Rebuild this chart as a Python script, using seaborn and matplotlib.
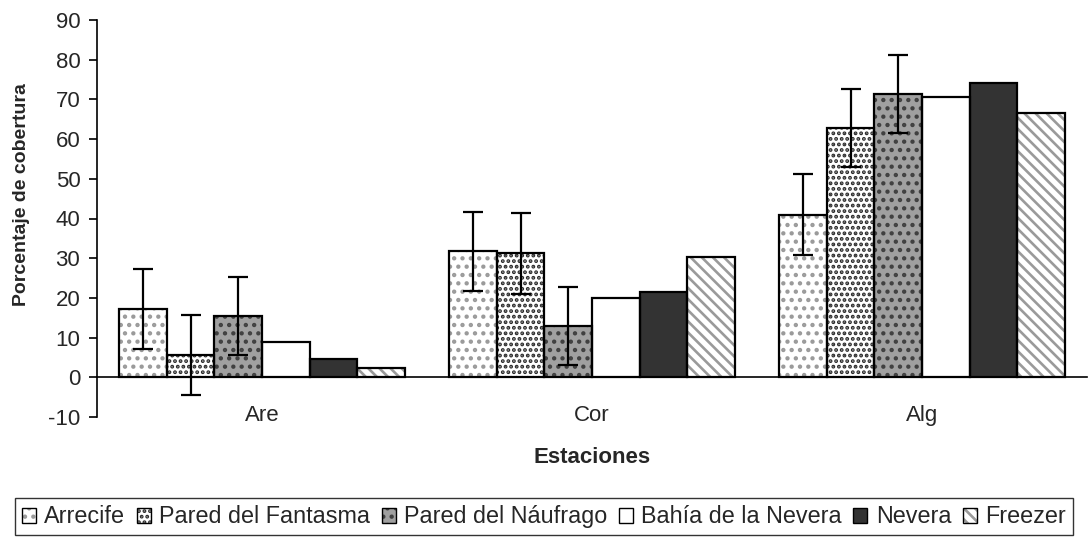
import pandas as pd
import matplotlib.pyplot as plt
import seaborn as sns
from matplotlib.patches import Patch, Rectangle

# datos
estaciones = ['Are', 'Cor', 'Alg']
sitios = ['Arrecife', 'Pared del Fantasma', 'Pared del Náufrago',
          'Bahía de la Nevera', 'Nevera', 'Freezer']

arrecife = [17.3, 31.7, 41.0]
pared_fantasma = [5.6, 31.2, 62.8]
pared_naufrago = [15.4, 13.0, 71.4]
bahia_nevera = [8.8, 20.0, 70.7]
nevera = [4.6, 21.4, 74.1]
freezer = [2.3, 30.2, 66.6]

err_arrecife = [10.1, 10.0, 10.1]
err_fantasma = [10.1, 10.1, 9.8]
err_naufrago = [9.9, 9.8, 9.8]

valores = [arrecife, pared_fantasma, pared_naufrago, bahia_nevera, nevera, freezer]
errores = [err_arrecife, err_fantasma, err_naufrago, None, None, None]

rows = []
for sitio, vals in zip(sitios, valores):
    for est, v in zip(estaciones, vals):
        rows.append({'estacion': est, 'sitio': sitio, 'valor': v})
df = pd.DataFrame(rows)

# estilo de cada serie: (relleno, color de trama, trama)
estilos = [
    ('white', '#9a9a9a', '..'),
    ('white', '#2a2a2a', '...'),
    ('#a0a0a0', '#404040', '..'),
    ('white', 'white', ''),
    ('#333333', '#333333', ''),
    ('white', '#9a9a9a', '\\\\\\'),
]

sns.set_style('white')
plt.rcParams['font.family'] = ['Liberation Sans', 'DejaVu Sans']
plt.rcParams['axes.unicode_minus'] = False
plt.rcParams['hatch.linewidth'] = 1.9

fig = plt.figure(figsize=(10.88, 5.40), dpi=100)
ax = fig.add_axes([97 / 1088, 1 - 417 / 540, 990 / 1088, 397 / 540])

sns.barplot(data=df, x='estacion', y='valor', hue='sitio', order=estaciones,
            hue_order=sitios, width=0.864, errorbar=None, ax=ax,
            palette=['white'] * 6)

for cont, (fc, hc, hatch), errs in zip(ax.containers, estilos, errores):
    for p in cont.patches:
        p.set_facecolor(fc)
        p.set_edgecolor(hc)
        p.set_hatch(hatch)
        p.set_linewidth(0)
        ax.add_patch(Rectangle(p.get_xy(), p.get_width(), p.get_height(),
                               fill=False, edgecolor='black', linewidth=1.6,
                               zorder=p.get_zorder() + 0.1))
    if errs is not None:
        xs = [p.get_x() + p.get_width() / 2 for p in cont.patches]
        ys = [p.get_height() for p in cont.patches]
        ax.errorbar(xs, ys, yerr=errs, fmt='none', ecolor='black',
                    elinewidth=1.6, capsize=7, capthick=1.6, zorder=5)

ax.legend_.remove()

ax.set_ylim(-10, 90)
ax.set_xlim(-0.5, 2.5)
ax.set_yticks(range(-10, 91, 10))
ax.spines['top'].set_visible(False)
ax.spines['right'].set_visible(False)
ax.spines['bottom'].set_position(('data', 0))
for s in ['left', 'bottom']:
    ax.spines[s].set_color('black')
    ax.spines[s].set_linewidth(1.2)

ax.set_xticks([-0.5, 0.5, 1.5, 2.5], minor=True)
ax.tick_params(axis='x', which='minor', length=6, width=1.2, direction='out', color='black')
ax.tick_params(axis='x', which='major', length=0, pad=20, labelsize=16)
ax.tick_params(axis='y', length=6, width=1.2, direction='out', color='black',
               labelsize=16, pad=6, left=True)

ax.set_xlabel('Estaciones', fontsize=16, fontweight='bold')
ax.xaxis.set_label_coords(0.5, -0.076)
ax.set_ylabel('Porcentaje de cobertura', fontsize=14, fontweight='bold')
ax.yaxis.set_label_coords(-0.068, 0.56)

# leyenda
handles = []
for fc, hc, hatch in estilos:
    handles.append((Patch(facecolor=fc, edgecolor=hc, hatch=hatch, linewidth=0),
                    Patch(fill=False, edgecolor='black', linewidth=1.0)))
leg = fig.legend(handles, sitios, loc='lower center', ncol=6,
                 bbox_to_anchor=(0.5, 0.0), fontsize=16.8, frameon=True,
                 fancybox=False, edgecolor='black', handlelength=0.6,
                 handleheight=0.6, handletextpad=0.35, columnspacing=0.5,
                 borderpad=0.3, borderaxespad=0.2)
leg.get_frame().set_linewidth(1.0)

plt.savefig('out.png', dpi=100)
